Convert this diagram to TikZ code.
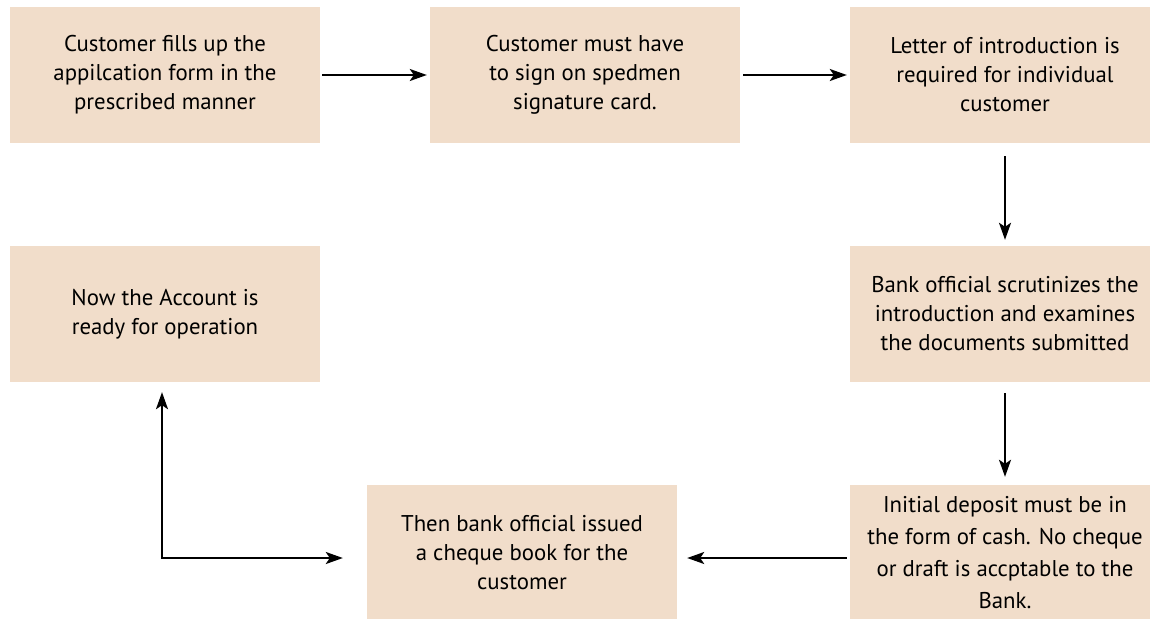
\documentclass[tikz,border=0pt]{standalone}
\usepackage{fontspec}
\setmainfont{PT Sans}
\usetikzlibrary{arrows.meta,calc}
\definecolor{boxfill}{RGB}{241,221,202}
\tikzset{
  stepbox/.style={fill=boxfill, draw=none, minimum width=310pt, minimum height=136pt,
    inner sep=0pt, align=center, font=\fontsize{22.8}{29}\selectfont, text=black},
  flow/.style={line width=2pt, -{Stealth[length=17pt,width=12pt,inset=4pt]}},
  flowboth/.style={line width=2pt, {Stealth[length=17pt,width=12pt,inset=4pt]}-{Stealth[length=17pt,width=12pt,inset=4pt]}}
}
\begin{document}
\begin{tikzpicture}[x=1pt,y=-1pt]
\useasboundingbox (0,0) rectangle (1150,618);
\begin{scope}
\clip (0,0) rectangle (1150,618);
\node[stepbox] (b1) at (165,75) {Customer fills up the\\appilcation form in the\\prescribed manner};
\node[stepbox] (b2) at (585,75) {Customer must have\\to sign on spedmen\\signature card.};
\node[stepbox] (b3) at (1005,75) {Letter of introduction is\\required for individual\\customer};
\node[stepbox] (b4) at (1005,314) {Bank official scrutinizes the\\introduction and examines\\the documents submitted};
\node[stepbox, font=\fontsize{22.8}{32}\selectfont] (b5) at (1005,553) {Initial deposit must be in\\the form of cash. No cheque\\or draft is accptable to the\\Bank.};
\node[stepbox] (b6) at (522,553) {Then bank official issued\\a cheque book for the\\customer};
\node[stepbox] (b7) at (165,314) {Now the Account is\\ready for operation};
\end{scope}
\coordinate (corner) at (162,558);
\draw[flow, shorten <=2pt, shorten >=3pt] (b1.east) -- (b2.west);
\draw[flow, shorten <=3pt, shorten >=3pt] (b2.east) -- (b3.west);
\draw[flow, shorten <=13pt, shorten >=6pt] (b3.south) -- (b4.north);
\draw[flow, shorten <=11pt, shorten >=8pt] (b4.south) -- (b5.north);
\draw[flow, shorten <=3pt, shorten >=10pt] (b5.west |- corner) -- (b6.east |- corner);
\draw[flowboth, shorten <=10pt, shorten >=24pt] (corner |- b7.south) -- (corner) -- (corner -| b6.west);
\end{tikzpicture}
\end{document}
